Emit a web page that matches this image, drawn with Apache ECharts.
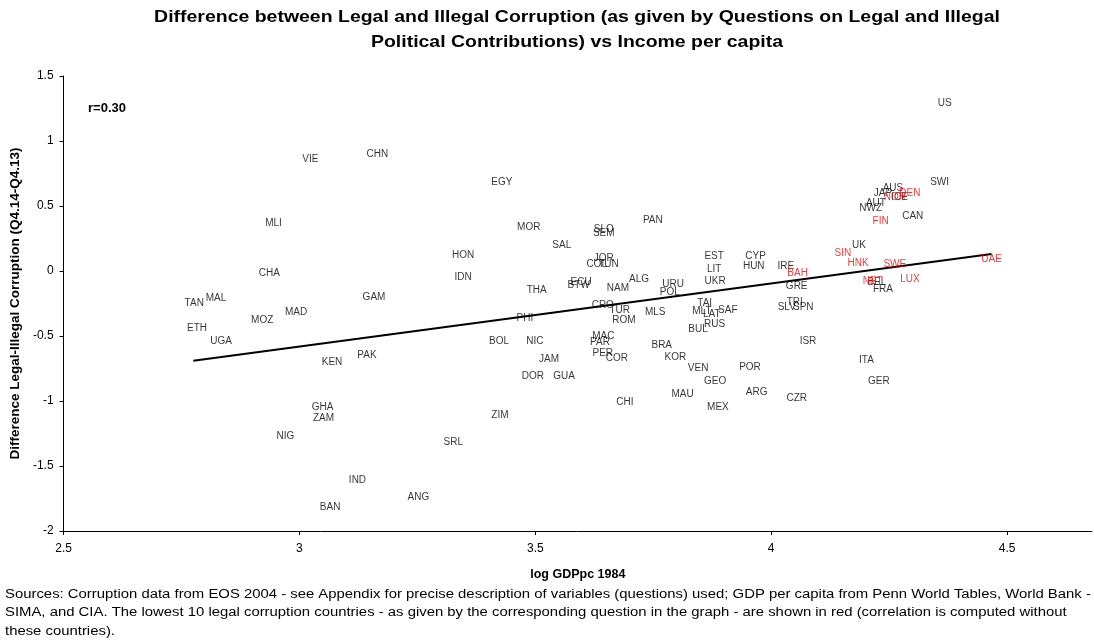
<!DOCTYPE html>
<html>
<head>
<meta charset="utf-8">
<script src="https://cdn.jsdelivr.net/npm/echarts@6/dist/echarts.min.js"></script>
<style>html,body{margin:0;padding:0;background:#fff}#c{width:1094px;height:640px}</style>
</head>
<body>
<div id="c"></div>
<script>
const blackNames = ["VIE","CHN","MLI","CHA","TAN","MAL","ETH","UGA","MOZ","MAD","GAM","KEN","PAK","GHA","ZAM","NIG","IND","BAN","EGY","MOR","PAN","SLO","SEM","SAL","HON","IDN","JOR","COL","TUN","ECU","BTW","THA","NAM","ALG","URU","POL","CRO","TUR","ROM","MLS","PHI","BOL","NIC","MAC","PAR","PER","COR","JAM","DOR","GUA","BRA","KOR","MAU","CHI","ZIM","SRL","ANG","EST","LIT","UKR","CYP","HUN","IRE","GRE","TRI","SLV","SPN","UK","TAI","MLT","SAF","LAT","RUS","BUL","ISR","ITA","GER","POR","GEO","ARG","CZR","MEX","VEN","US","SWI","AUS","JAP","ICE","AUT","NWZ","CAN","BEL","FRA"];
const blackX = [3.023,3.165,2.945,2.936,2.777,2.823,2.783,2.834,2.921,2.993,3.158,3.069,3.143,3.049,3.051,2.970,3.123,3.065,3.429,3.486,3.749,3.645,3.645,3.556,3.347,3.347,3.645,3.630,3.655,3.597,3.592,3.503,3.675,3.720,3.792,3.785,3.643,3.679,3.688,3.754,3.478,3.423,3.499,3.644,3.637,3.643,3.673,3.529,3.495,3.561,3.768,3.797,3.812,3.690,3.425,3.326,3.252,3.879,3.879,3.881,3.967,3.963,4.031,4.054,4.050,4.033,4.068,4.186,3.859,3.853,3.908,3.874,3.880,3.845,4.078,4.202,4.228,3.955,3.881,3.969,4.054,3.887,3.845,4.368,4.357,4.258,4.237,4.272,4.222,4.211,4.300,4.224,4.237];
const blackY = [0.86,0.90,0.37,-0.02,-0.25,-0.21,-0.44,-0.54,-0.38,-0.32,-0.20,-0.70,-0.65,-1.05,-1.13,-1.27,-1.61,-1.82,0.68,0.34,0.39,0.32,0.29,0.20,0.12,-0.05,0.10,0.05,0.05,-0.09,-0.11,-0.15,-0.13,-0.06,-0.10,-0.16,-0.26,-0.30,-0.38,-0.32,-0.36,-0.54,-0.54,-0.50,-0.55,-0.63,-0.67,-0.68,-0.81,-0.81,-0.57,-0.66,-0.95,-1.01,-1.11,-1.32,-1.74,0.11,0.015,-0.08,0.11,0.04,0.04,-0.12,-0.24,-0.28,-0.28,0.20,-0.25,-0.31,-0.30,-0.33,-0.41,-0.45,-0.54,-0.69,-0.85,-0.74,-0.85,-0.93,-0.98,-1.05,-0.75,1.29,0.68,0.64,0.60,0.57,0.52,0.48,0.42,-0.09,-0.14];

const redNames = ["BAH","SIN","HNK","FIN","DEN","NOR","SWE","UAE","LUX","NET"];
const redX = [4.056,4.152,4.184,4.232,4.294,4.262,4.262,4.467,4.294,4.215];
const redY = [-0.02,0.14,0.06,0.38,0.60,0.57,0.05,0.09,-0.06,-0.08];

const trendX = [2.775, 4.467];
const trendY = [-0.69, 0.13];

const xTicks = [2.5, 3, 3.5, 4, 4.5];
const yTicks = [-2, -1.5, -1, -0.5, 0, 0.5, 1, 1.5];

const FONT = '"Liberation Sans", Arial, sans-serif';

function pts(names, xs, ys){ return names.map((n,i)=>[xs[i], ys[i], n]); }

const labelStyle = (color) => ({show: true, position: 'inside', formatter: p => p.value[2], color: color,
  fontFamily: FONT, fontSize: 10, textBorderWidth: 0, textShadowBlur: 0});

const chart = echarts.init(document.getElementById('c'), null, {renderer:'canvas'});
chart.setOption({
  animation: false,
  backgroundColor: '#fff',
  grid: {left: 63, right: 2, top: 76, bottom: 109},
  xAxis: {
    type: 'value', min: 2.5, max: 4.68, interval: 0.5,
    name: 'log GDPpc 1984', nameLocation: 'middle', nameGap: 37,
    nameTextStyle: {fontFamily: FONT, fontSize: 12.5, fontWeight: 'bold', color: '#000'},
    axisLine: {show: true, onZero: false, lineStyle: {color: '#000', width: 1}},
    axisTick: {show: true, length: 4, lineStyle: {color: '#000'}},
    axisLabel: {show: true, color: '#000', fontFamily: FONT, fontSize: 12, margin: 12, showMaxLabel: false,
      formatter: v => xTicks.includes(Math.round(v*100)/100) ? String(v) : ''},
    splitLine: {show: false}
  },
  yAxis: {
    type: 'value', min: -2, max: 1.5, interval: 0.5,
    name: 'Difference Legal-Illegal Corruption (Q4.14-Q4.13)', nameLocation: 'middle', nameGap: 40, nameRotate: 90,
    nameTextStyle: {fontFamily: FONT, fontSize: 13.5, fontWeight: 'bold', color: '#000'},
    axisLine: {show: true, onZero: false, lineStyle: {color: '#000', width: 1}},
    axisTick: {show: true, length: 4, lineStyle: {color: '#000'}},
    axisLabel: {show: true, color: '#000', fontFamily: FONT, fontSize: 12, margin: 10,
      formatter: v => yTicks.includes(v) ? String(v) : ''},
    splitLine: {show: false}
  },
  series: [
    {
      type: 'line', data: trendX.map((x,i)=>[x, trendY[i]]), symbol: 'none',
      lineStyle: {color: '#000', width: 2}, z: 1, silent: true
    },
    {
      type: 'scatter', data: pts(blackNames, blackX, blackY), symbolSize: 1,
      itemStyle: {color: 'rgba(0,0,0,0)'}, z: 2, label: labelStyle('#000')
    },
    {
      type: 'scatter', data: pts(redNames, redX, redY), symbolSize: 1,
      itemStyle: {color: 'rgba(0,0,0,0)'}, z: 3, label: labelStyle('#ff0000')
    }
  ],
  graphic: [
    {type: 'text', x: 577, y: 5, scaleX: 1.145, style: {
      text: 'Difference between Legal and Illegal Corruption (as given by Questions on Legal and Illegal\nPolitical Contributions) vs Income per capita',
      font: 'bold 17px ' + FONT, fill: '#000', lineHeight: 25, textAlign: 'center'}},
    {type: 'text', left: 88, top: 102, style: {text: 'r=0.30', font: 'bold 13px ' + FONT, fill: '#000'}},
    {type: 'text', x: 5, y: 585, scaleX: 1.19, style: {
      text: 'Sources: Corruption data from EOS 2004 - see Appendix for precise description of variables (questions) used; GDP per capita from Penn World Tables, World Bank -\nSIMA, and CIA. The lowest 10 legal corruption countries - as given by the corresponding question in the graph - are shown in red (correlation is computed without\nthese countries).',
      font: '12.5px ' + FONT, fill: '#000', lineHeight: 18.5}}
  ]
});
</script>
</body>
</html>
